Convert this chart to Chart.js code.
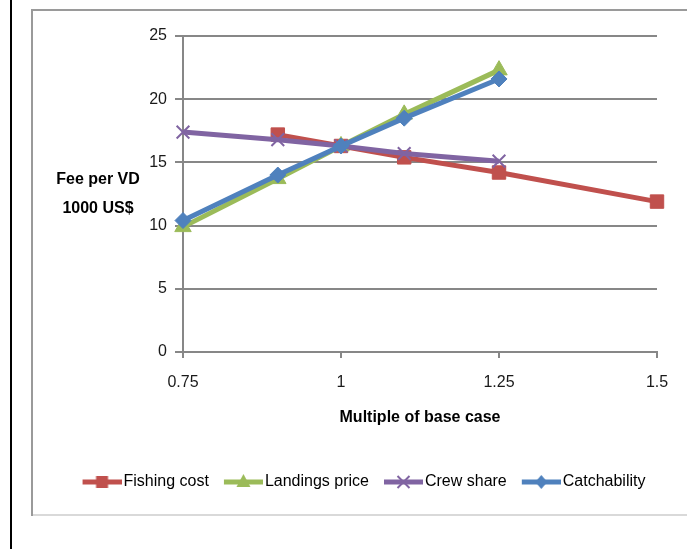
<!DOCTYPE html>
<html>
<head>
<meta charset="utf-8">
<script src="https://cdn.jsdelivr.net/npm/chart.js@4/dist/chart.umd.min.js"></script>
<style>
  html, body { margin: 0; padding: 0; background: #fff; }
  #wrap { position: relative; width: 699px; height: 549px; }
</style>
</head>
<body>
<div id="wrap"><canvas id="c" width="699" height="549"></canvas></div>
<script>
// Fee per vessel day (1000 US$) against multiples of the base case
const seriesNames = ['Fishing cost', 'Landings price', 'Crew share', 'Catchability'];
const fishingCostX = [0.9, 1, 1.1, 1.25, 1.5];
const fishingCostY = [17.2, 16.3, 15.4, 14.2, 11.9];
const landingsPriceX = [0.75, 0.9, 1, 1.1, 1.25];
const landingsPriceY = [9.9, 13.7, 16.3, 18.8, 22.3];
const crewShareX = [0.75, 0.9, 1, 1.1, 1.25];
const crewShareY = [17.4, 16.8, 16.3, 15.7, 15.1];
const catchabilityX = [0.75, 0.9, 1, 1.1, 1.25];
const catchabilityY = [10.4, 14.0, 16.3, 18.5, 21.6];

const xTickValues = [0.75, 1, 1.25, 1.5];
const xTickLabels = ['0.75', '1', '1.25', '1.5'];
const yTickValues = [0, 5, 10, 15, 20, 25];
const yTitleLines = ['Fee per VD', '1000 US$'];
const xTitle = 'Multiple of base case';

const colors = ['#C0504D', '#9BBB59', '#8064A2', '#4F81BD'];
const markers = ['rect', 'triangle', 'crossRot', 'rectRot'];
const FONT = '"Liberation Sans", Arial, sans-serif';
const GRID = '#878787';

function toPoints(xs, ys) {
  return xs.map((x, i) => ({ x: x, y: ys[i] }));
}

// Legend icon: a short line with the series marker in its middle
function drawMarker(g, style, cx, cy, color) {
  g.fillStyle = color;
  g.strokeStyle = color;
  g.beginPath();
  if (style === 'rect') {
    g.rect(cx - 6, cy - 6, 12, 12);
    g.fill();
  } else if (style === 'triangle') {
    g.moveTo(cx, cy - 8);
    g.lineTo(cx + 7, cy + 5);
    g.lineTo(cx - 7, cy + 5);
    g.closePath();
    g.fill();
  } else if (style === 'crossRot') {
    g.lineWidth = 2;
    g.moveTo(cx - 6, cy - 6); g.lineTo(cx + 6, cy + 6);
    g.moveTo(cx + 6, cy - 6); g.lineTo(cx - 6, cy + 6);
    g.stroke();
  } else {
    g.moveTo(cx, cy - 7);
    g.lineTo(cx + 6, cy);
    g.lineTo(cx, cy + 7);
    g.lineTo(cx - 6, cy);
    g.closePath();
    g.fill();
  }
}
function makeIcon(color, style) {
  const c = document.createElement('canvas');
  c.width = 45; c.height = 20;
  const g = c.getContext('2d');
  g.strokeStyle = color;
  g.lineWidth = 5;
  g.beginPath();
  g.moveTo(6, 10);
  g.lineTo(45, 10);
  g.stroke();
  drawMarker(g, style, 25.5, 10, color);
  return c;
}
const legendIcons = colors.map((c, i) => makeIcon(c, markers[i]));

const seriesData = [
  toPoints(fishingCostX, fishingCostY),
  toPoints(landingsPriceX, landingsPriceY),
  toPoints(crewShareX, crewShareY),
  toPoints(catchabilityX, catchabilityY)
];
const pointRadii = [9.5, 9.5, 9, 8];

const datasets = seriesNames.map((name, i) => ({
  label: name,
  data: seriesData[i],
  borderColor: colors[i],
  backgroundColor: colors[i],
  borderWidth: 5,
  pointStyle: markers[i],
  pointRadius: pointRadii[i],
  pointBorderWidth: markers[i] === 'crossRot' ? 2 : 1,
  pointBackgroundColor: colors[i],
  pointBorderColor: colors[i],
  tension: 0,
  clip: false,
  order: seriesNames.length - i
}));

// Page frame drawn behind the chart
const framePlugin = {
  id: 'frame',
  beforeDraw(chart) {
    const ctx = chart.ctx;
    ctx.save();
    ctx.fillStyle = '#fff';
    ctx.fillRect(0, 0, chart.width, chart.height);
    ctx.fillStyle = '#000';
    ctx.fillRect(10, 0, 2, chart.height);
    ctx.fillStyle = '#9a9a9a';
    ctx.fillRect(31, 9, 656, 2);
    ctx.fillRect(31, 9, 2, 507);
    ctx.fillStyle = '#d9d9d9';
    ctx.fillRect(33, 514, 654, 2);
    ctx.restore();
  }
};

// Horizontal two-line title for the value axis
const yTitlePlugin = {
  id: 'yTitle',
  afterDraw(chart) {
    const ctx = chart.ctx;
    const ca = chart.chartArea;
    ctx.save();
    ctx.font = 'bold 16px ' + FONT;
    ctx.fillStyle = '#000';
    ctx.textAlign = 'center';
    ctx.textBaseline = 'middle';
    ctx.fillText(yTitleLines[0], ca.left - 85, ca.top + 144);
    ctx.fillText(yTitleLines[1], ca.left - 85, ca.top + 173);
    ctx.restore();
  }
};

// Centre the legend row under the plot
const legendShift = {
  id: 'legendShift',
  afterLayout(chart) {
    const lg = chart.legend;
    if (!lg) return;
    const shift = 364 - (lg.left + lg.right) / 2;
    lg.left += shift;
    lg.right += shift;
  }
};

new Chart(document.getElementById('c'), {
  type: 'line',
  data: { datasets: datasets },
  options: {
    responsive: false,
    animation: false,
    devicePixelRatio: 1,
    layout: { padding: { left: 0, right: 42, top: 36, bottom: 49 } },
    plugins: {
      tooltip: { enabled: false },
      legend: {
        position: 'bottom',
        labels: {
          usePointStyle: true,
          pointStyleWidth: 33,
          padding: 15,
          color: '#000',
          font: { family: FONT, size: 16 },
          generateLabels(chart) {
            return chart.data.datasets.map((ds, i) => ({
              text: ds.label,
              pointStyle: legendIcons[i],
              fillStyle: ds.borderColor,
              strokeStyle: ds.borderColor,
              lineWidth: 0,
              hidden: false,
              datasetIndex: i,
              fontColor: '#000'
            }));
          }
        }
      }
    },
    scales: {
      x: {
        type: 'linear',
        min: 0.75,
        max: 1.5,
        afterBuildTicks(s) { s.ticks = xTickValues.map(v => ({ value: v })); },
        afterFit(s) { s.height = 107; },
        ticks: {
          autoSkip: false,
          maxRotation: 0,
          padding: 15,
          color: '#1a1a1a',
          font: { family: FONT, size: 16 },
          callback(v) { const k = xTickValues.indexOf(v); return k >= 0 ? xTickLabels[k] : ''; }
        },
        grid: { drawOnChartArea: false, drawTicks: true, tickLength: 6, color: GRID, lineWidth: 2 },
        border: { color: GRID, width: 2 },
        title: {
          display: true,
          text: xTitle,
          color: '#000',
          font: { family: FONT, size: 16, weight: 'bold' },
          padding: { top: 0, bottom: 32 }
        }
      },
      y: {
        type: 'linear',
        min: 0,
        max: 25,
        afterBuildTicks(s) { s.ticks = yTickValues.map(v => ({ value: v })); },
        afterFit(s) { s.width = 183; },
        ticks: {
          padding: 8,
          color: '#1a1a1a',
          font: { family: FONT, size: 16 }
        },
        grid: { color: GRID, lineWidth: 2, tickLength: 8, drawTicks: true },
        border: { color: GRID, width: 2 }
      }
    }
  },
  plugins: [framePlugin, yTitlePlugin, legendShift]
});
</script>
</body>
</html>
